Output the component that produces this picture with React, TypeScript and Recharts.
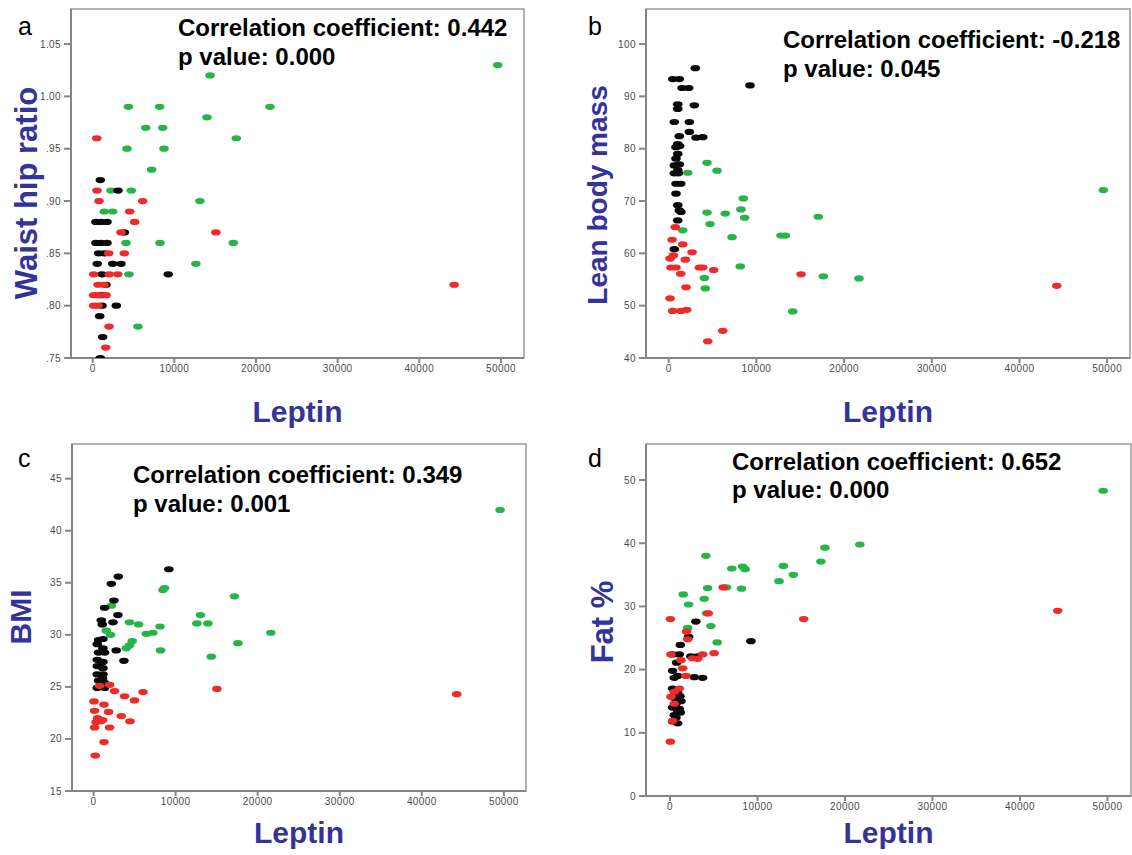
import React from 'react';
import { ScatterChart, Scatter, XAxis, YAxis, ReferenceArea, Label } from 'recharts';

const FONT = '"Liberation Sans", Arial, Helvetica, sans-serif';
const GREEN = '#27b548';
const RED = '#ee2a2a';
const BLACK = '#0a0a0a';
const TITLE_BLUE = '#33339a';
const AXIS_GRAY = '#858585';

// Tick values
const leptinTicks = [0, 10000, 20000, 30000, 40000, 50000];
const whrTicks = [0.75, 0.8, 0.85, 0.9, 0.95, 1.0, 1.05];
const lbmTicks = [40, 50, 60, 70, 80, 90, 100];
const bmiTicks = [15, 20, 25, 30, 35, 40, 45];
const fatTicks = [0, 10, 20, 30, 40, 50];

type Pt = [number, number];

// a: Leptin vs Waist hip ratio
const whrGreen: Pt[] = [
  [4370, 0.99], [8200, 0.99], [21710, 0.99], [14370, 1.02], [14000, 0.98], [6490, 0.97],
  [8570, 0.97], [17590, 0.96], [4200, 0.95], [8730, 0.95], [7220, 0.93], [2240, 0.91],
  [4730, 0.91], [13130, 0.9], [1420, 0.89], [2450, 0.89], [4080, 0.86], [8240, 0.86],
  [17220, 0.86], [12640, 0.84], [4440, 0.83], [5540, 0.78], [49600, 1.03],
];
const whrRed: Pt[] = [
  [490, 0.96], [530, 0.91], [770, 0.9], [6120, 0.9], [4530, 0.89], [5140, 0.88],
  [3470, 0.87], [15090, 0.87], [1960, 0.85], [3870, 0.85], [120, 0.83], [2030, 0.83],
  [3060, 0.83], [660, 0.82], [1380, 0.82], [120, 0.81], [730, 0.81], [1630, 0.81],
  [120, 0.8], [650, 0.8], [2000, 0.78], [1590, 0.76], [44260, 0.82],
];
const whrBlack: Pt[] = [
  [930, 0.92], [3100, 0.91], [400, 0.88], [1020, 0.88], [1750, 0.88], [3870, 0.87],
  [400, 0.86], [1020, 0.86], [1750, 0.86], [730, 0.85], [1420, 0.85], [560, 0.84],
  [2450, 0.84], [3470, 0.84], [1140, 0.83], [9250, 0.83], [1630, 0.82], [1020, 0.81],
  [1140, 0.8], [2890, 0.8], [860, 0.79], [1220, 0.77], [930, 0.75],
];

// b: Leptin vs Lean body mass
const lbmGreen: Pt[] = [
  [4370, 77.3], [5510, 75.8], [2170, 75.4], [8510, 70.5], [8240, 68.4], [4370, 67.8],
  [6450, 67.6], [8660, 66.8], [4710, 65.6], [1600, 64.4], [7220, 63.1], [12800, 63.4],
  [13300, 63.4], [8160, 57.5], [4060, 55.3], [4170, 53.3], [14140, 48.9], [17060, 67.0],
  [17630, 55.6], [21700, 55.2], [49560, 72.1],
];
const lbmRed: Pt[] = [
  [750, 65.0], [380, 62.6], [1600, 61.7], [2660, 60.2], [150, 59.0], [530, 59.6],
  [1890, 58.8], [260, 57.3], [830, 57.3], [3490, 57.3], [3880, 57.3], [5130, 56.8],
  [1370, 56.1], [1970, 53.5], [150, 51.4], [460, 49.0], [1400, 49.0], [2050, 49.2],
  [6160, 45.2], [4450, 43.2], [15090, 56.0], [44240, 53.8],
];
const lbmBlack: Pt[] = [
  [3030, 95.4], [460, 93.3], [1210, 93.3], [9270, 92.1], [1520, 91.6], [2280, 91.6],
  [1030, 88.5], [2920, 88.3], [1030, 87.6], [640, 85.1], [2350, 85.1], [2350, 83.2],
  [1210, 82.4], [3110, 82.1], [3880, 82.2], [1030, 80.9], [830, 80.3], [1250, 80.5],
  [1030, 79.0], [830, 78.1], [640, 76.8], [1210, 77.0], [1030, 75.9], [640, 75.3],
  [1100, 75.3], [830, 73.3], [1370, 73.3], [830, 71.4], [1030, 69.2], [1210, 68.2],
  [1400, 67.9], [1030, 66.3], [640, 60.8],
];

// c: Leptin vs BMI
const bmiGreen: Pt[] = [
  [8450, 34.3], [8650, 34.5], [2160, 32.8], [13030, 31.9], [4380, 31.2], [5480, 31.0],
  [12590, 31.1], [13930, 31.1], [8090, 30.8], [1550, 30.4], [6420, 30.1], [7230, 30.2],
  [2070, 30.0], [4710, 29.4], [4380, 29.0], [3980, 28.7], [8160, 28.5], [14340, 27.9],
  [17170, 33.7], [17590, 29.2], [21600, 30.2], [49540, 42.0],
];
const bmiRed: Pt[] = [
  [730, 25.1], [1950, 25.2], [2560, 24.6], [3780, 24.1], [4990, 23.7], [6020, 24.5],
  [50, 23.6], [1270, 23.3], [120, 22.7], [1830, 22.6], [490, 22.0], [850, 21.7],
  [300, 21.6], [1100, 21.8], [120, 21.1], [3370, 22.2], [4430, 21.7], [1950, 21.1],
  [1270, 19.7], [200, 18.4], [15030, 24.8], [44260, 24.3],
];
const bmiBlack: Pt[] = [
  [9180, 36.3], [3010, 35.6], [2160, 34.9], [2480, 33.3], [1340, 32.6], [2970, 31.9],
  [940, 31.4], [2360, 31.2], [1060, 31.0], [610, 29.5], [1140, 29.6], [450, 29.1],
  [1140, 28.7], [610, 28.3], [1340, 28.3], [450, 27.6], [1140, 27.4], [450, 27.0],
  [1140, 26.8], [450, 26.2], [1140, 26.2], [610, 25.6], [1340, 25.4], [1100, 25.8],
  [450, 24.9], [1340, 24.9], [2760, 28.5], [3700, 27.5],
];

// d: Leptin vs Fat %
const fatGreen: Pt[] = [
  [4100, 38.0], [7070, 36.0], [8290, 36.3], [8590, 35.9], [12960, 36.4], [14100, 35.0],
  [12460, 34.0], [4300, 32.9], [8170, 32.8], [6460, 33.0], [1520, 31.9], [3910, 31.2],
  [2130, 30.3], [4180, 28.9], [4670, 26.9], [2020, 26.6], [5390, 24.3], [17250, 37.1],
  [17710, 39.3], [21700, 39.8], [49510, 48.3],
];
const fatRed: Pt[] = [
  [6080, 33.0], [4370, 28.9], [40, 28.0], [1900, 26.0], [2020, 24.8], [110, 22.4],
  [5050, 22.6], [3730, 22.4], [3160, 21.7], [2590, 21.8], [1250, 21.5], [1450, 20.2],
  [1820, 19.0], [1060, 17.0], [490, 16.5], [110, 15.7], [490, 14.6], [300, 11.9],
  [40, 8.6], [15280, 28.0], [44310, 29.3],
];
const fatBlack: Pt[] = [
  [2960, 27.6], [2130, 25.2], [1180, 23.9], [300, 22.4], [1060, 22.4], [2390, 22.1],
  [3160, 22.1], [760, 21.1], [300, 19.8], [870, 19.0], [490, 18.7], [2770, 18.8],
  [3730, 18.7], [9250, 24.5], [300, 17.0], [870, 16.4], [1140, 15.8], [490, 15.5],
  [1250, 15.0], [680, 14.6], [300, 14.0], [1060, 13.8], [870, 13.3], [490, 12.8],
  [1180, 13.2], [680, 12.4], [300, 11.8], [870, 11.5],
];

const toRows = (pts: Pt[]) => pts.map(([x, y]) => ({ x, y }));

const makeDot = (color: string) => (props: any) => {
  if (props.cx == null || props.cy == null) return null;
  return <ellipse cx={props.cx} cy={props.cy} rx={4.8} ry={3.1} fill={color} />;
};
const greenDot = makeDot(GREEN);
const redDot = makeDot(RED);
const blackDot = makeDot(BLACK);

interface PanelProps {
  left: number;
  top: number;
  width: number;
  height: number;
  margin: { top: number; right: number; bottom: number; left: number };
  yAxisWidth: number;
  xAxisHeight: number;
  xDomain: [number, number];
  yDomain: [number, number];
  yTicks: number[];
  yFormat?: (v: number) => string;
  yTitle: string;
  yTitleSize: number;
  yTitlePos: [number, number];
  xTitleOffset: number;
  letter: string;
  letterPos: [number, number];
  corr: [string, string];
  corrPos: [number, number, number];
  green: Pt[];
  red: Pt[];
  black: Pt[];
}

const tickStyle = { fill: '#4a4a4a', fontSize: 10, fontFamily: FONT, letterSpacing: 0.4 };

function Panel(p: PanelProps) {
  const [tx, ty] = p.yTitlePos;
  return (
    <div style={{ position: 'absolute', left: p.left, top: p.top }}>
      <ScatterChart width={p.width} height={p.height} margin={p.margin}>
        <ReferenceArea
          x1={p.xDomain[0]}
          x2={p.xDomain[1]}
          y1={p.yDomain[0]}
          y2={p.yDomain[1]}
          fill="none"
          stroke="#9a9a9a"
          strokeWidth={1.5}
          fillOpacity={0}
        />
        <XAxis
          dataKey="x"
          type="number"
          domain={p.xDomain}
          allowDataOverflow
          ticks={leptinTicks}
          height={p.xAxisHeight}
          tick={tickStyle}
          tickSize={5}
          tickMargin={2}
          stroke={AXIS_GRAY}
          strokeWidth={2}
        >
          <Label
            value="Leptin"
            position="insideBottom"
            offset={p.xTitleOffset}
            style={{ fill: TITLE_BLUE, fontSize: 30, fontWeight: 700, fontFamily: FONT }}
          />
        </XAxis>
        <YAxis
          dataKey="y"
          type="number"
          domain={p.yDomain}
          allowDataOverflow
          ticks={p.yTicks}
          width={p.yAxisWidth}
          tick={tickStyle}
          tickFormatter={p.yFormat}
          tickSize={7}
          tickMargin={3}
          stroke={AXIS_GRAY}
          strokeWidth={2}
        >
          <Label
            content={() => (
              <text
                x={tx}
                y={ty}
                transform={`rotate(-90 ${tx} ${ty})`}
                textAnchor="middle"
                fill={TITLE_BLUE}
                fontSize={p.yTitleSize}
                fontWeight={700}
                fontFamily={FONT}
              >
                {p.yTitle}
              </text>
            )}
          />
        </YAxis>
        <Scatter data={toRows(p.green)} shape={greenDot} isAnimationActive={false} />
        <Scatter data={toRows(p.black)} shape={blackDot} isAnimationActive={false} />
        <Scatter data={toRows(p.red)} shape={redDot} isAnimationActive={false} />
        <text x={p.letterPos[0]} y={p.letterPos[1]} fontSize={25} fontFamily={FONT} fill="#000">
          {p.letter}
        </text>
        <text x={p.corrPos[0]} y={p.corrPos[1]} fontSize={24} fontWeight={700} fontFamily={FONT} fill="#000">
          {p.corr[0]}
        </text>
        <text x={p.corrPos[0]} y={p.corrPos[2]} fontSize={24} fontWeight={700} fontFamily={FONT} fill="#000">
          {p.corr[1]}
        </text>
      </ScatterChart>
    </div>
  );
}

const fmtWhr = (v: number) => v.toFixed(2).replace(/^0/, '');

export default function App() {
  return (
    <div
      style={{
        position: 'absolute',
        left: 0,
        top: 0,
        width: 1132,
        height: 855,
        background: '#fff',
        overflow: 'hidden',
      }}
    >
      <Panel
        left={0}
        top={0}
        width={566}
        height={430}
        margin={{ top: 9, right: 42, bottom: 0, left: 0 }}
        yAxisWidth={71}
        xAxisHeight={72}
        xDomain={[-2657, 52820]}
        yDomain={[0.75, 1.0835]}
        yTicks={whrTicks}
        yFormat={fmtWhr}
        yTitle="Waist hip ratio"
        yTitleSize={31}
        yTitlePos={[37, 193]}
        xTitleOffset={8}
        letter="a"
        letterPos={[18, 35]}
        corr={['Correlation coefficient: 0.442', 'p value: 0.000']}
        corrPos={[178, 36, 65]}
        green={whrGreen}
        red={whrRed}
        black={whrBlack}
      />
      <Panel
        left={566}
        top={0}
        width={566}
        height={430}
        margin={{ top: 9, right: 2, bottom: 0, left: 0 }}
        yAxisWidth={80}
        xAxisHeight={72}
        xDomain={[-2590, 52600]}
        yDomain={[40, 106.7]}
        yTicks={lbmTicks}
        yTitle="Lean body mass"
        yTitleSize={28}
        yTitlePos={[41, 195]}
        xTitleOffset={8}
        letter="b"
        letterPos={[22, 35]}
        corr={['Correlation coefficient: -0.218', 'p value: 0.045']}
        corrPos={[217, 48, 77]}
        green={lbmGreen}
        red={lbmRed}
        black={lbmBlack}
      />
      <Panel
        left={0}
        top={430}
        width={566}
        height={425}
        margin={{ top: 14, right: 40, bottom: 0, left: 0 }}
        yAxisWidth={72}
        xAxisHeight={64}
        xDomain={[-2630, 52700]}
        yDomain={[15, 48.33]}
        yTicks={bmiTicks}
        yTitle="BMI"
        yTitleSize={30}
        yTitlePos={[31, 187]}
        xTitleOffset={12}
        letter="c"
        letterPos={[18, 37]}
        corr={['Correlation coefficient: 0.349', 'p value: 0.001']}
        corrPos={[133, 53, 82]}
        green={bmiGreen}
        red={bmiRed}
        black={bmiBlack}
      />
      <Panel
        left={566}
        top={430}
        width={566}
        height={425}
        margin={{ top: 14, right: 1, bottom: 0, left: 0 }}
        yAxisWidth={80}
        xAxisHeight={59}
        xDomain={[-2740, 52690]}
        yDomain={[0, 55.7]}
        yTicks={fatTicks}
        yTitle="Fat %"
        yTitleSize={31}
        yTitlePos={[47, 192]}
        xTitleOffset={12}
        letter="d"
        letterPos={[22, 37]}
        corr={['Correlation coefficient: 0.652', 'p value: 0.000']}
        corrPos={[166, 40, 68]}
        green={fatGreen}
        red={fatRed}
        black={fatBlack}
      />
    </div>
  );
}
